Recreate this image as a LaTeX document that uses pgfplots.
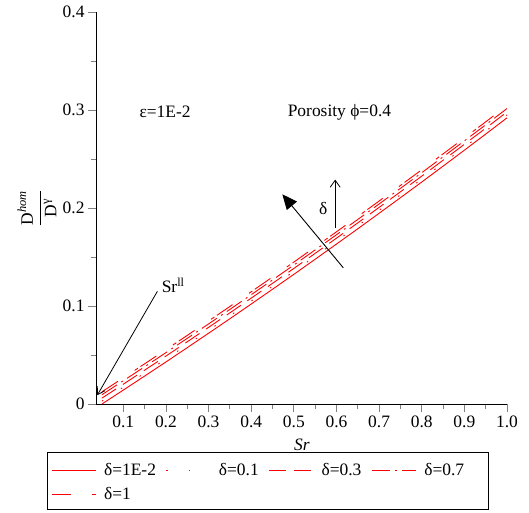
\documentclass[border=0pt]{standalone}
\usepackage{pgfplots}
\pgfplotsset{compat=1.18}
\usepackage{pgfplotstable}
\usetikzlibrary{arrows.meta}
\usepackage{fontspec}
\setmainfont{Liberation Serif}
\definecolor{myred}{RGB}{255,0,0}
\pgfplotstableread{
x      d1      d2      d3      d4      d5
0.05   0.0000  0.0030  0.0060  0.0095  0.0125
0.10   0.0142  0.0172  0.0202  0.0237  0.0267
0.15   0.0285  0.0315  0.0345  0.0380  0.0410
0.20   0.0429  0.0459  0.0489  0.0524  0.0554
0.25   0.0575  0.0605  0.0635  0.0670  0.0700
0.30   0.0722  0.0752  0.0782  0.0817  0.0847
0.35   0.0870  0.0900  0.0930  0.0965  0.0995
0.40   0.1020  0.1050  0.1080  0.1115  0.1145
0.45   0.1171  0.1201  0.1231  0.1266  0.1296
0.50   0.1323  0.1353  0.1383  0.1418  0.1448
0.55   0.1477  0.1507  0.1537  0.1572  0.1602
0.60   0.1632  0.1662  0.1692  0.1727  0.1757
0.65   0.1788  0.1818  0.1848  0.1883  0.1913
0.70   0.1946  0.1976  0.2006  0.2041  0.2071
0.75   0.2105  0.2135  0.2165  0.2200  0.2230
0.80   0.2265  0.2295  0.2325  0.2360  0.2390
0.85   0.2427  0.2457  0.2487  0.2522  0.2552
0.90   0.2590  0.2620  0.2650  0.2685  0.2715
0.95   0.2754  0.2784  0.2814  0.2849  0.2879
1.00   0.2920  0.2950  0.2980  0.3015  0.3045
}\datatable
\newcommand{\fs}{\fontsize{17.5}{19}\selectfont}
\begin{document}
\begin{tikzpicture}
\begin{axis}[
  scale only axis, width=411bp, height=392bp,
  at={(0,0)}, anchor=south west,
  xmin=0.036, xmax=1.0, ymin=0, ymax=0.4,
  axis lines=left, axis line style={-, line width=0.8bp},
  tick style={line width=0.8bp},
  tick align=outside, major tick length=8bp, minor tick length=5bp,
  xtick={0.1,0.2,0.3,0.4,0.5,0.6,0.7,0.8,0.9,1.0},
  xticklabels={0.1,0.2,0.3,0.4,0.5,0.6,0.7,0.8,0.9,1.0},
  minor xtick={0.15,0.25,0.35,0.45,0.55,0.65,0.75,0.85,0.95},
  ytick={0,0.1,0.2,0.3,0.4},
  yticklabels={0,0.1,0.2,0.3,0.4},
  minor ytick={0.05,0.15,0.25,0.35},
  /pgf/number format/assume math mode=true,
  ticklabel style={font=\fs},
  xlabel={\itshape Sr},
  xlabel style={font=\fs, at={(axis description cs:0.501,-0.105)}, anchor=center},
  ylabel={$\displaystyle\frac{\mbox{D}^{\mbox{\fontsize{12.5}{13}\selectfont\itshape hom}}}{\mbox{D}^{\mbox{\fontsize{12.5}{13}\selectfont γ}}}$},
  ylabel style={font=\fs, at={(axis description cs:-0.1435,0.5)}, anchor=center},
  legend columns=4,
  legend style={at={(axis description cs:-0.1193,-0.1224)}, anchor=north west,
    font=\fs, draw=none, fill=none, color=myred, nodes={text=black},
    /tikz/every odd column/.append style={column sep=6bp},
    /tikz/every even column/.append style={column sep=8bp},
    row sep=6bp,
    inner xsep=4bp, inner ysep=9bp},
  legend cell align=left,
  legend image code/.code={\draw[myred,#1] (0bp,0bp)--(44bp,0bp);},
  clip=false,
]
\addplot[color=myred, line width=0.9bp] table[x=x,y=d1] {\datatable};
\addlegendentry{δ=1E-2}
\addplot[color=myred, line width=0.9bp, dash pattern=on 1.5bp off 21bp] table[x=x,y=d2] {\datatable};
\addlegendentry{δ=0.1}
\addplot[color=myred, line width=0.9bp, dash pattern=on 17bp off 8bp] table[x=x,y=d3] {\datatable};
\addlegendentry{δ=0.3}
\addplot[color=myred, line width=0.9bp, dash pattern=on 18bp off 5bp on 2bp off 5bp] table[x=x,y=d4] {\datatable};
\addlegendentry{δ=0.7}
\addplot[color=myred, line width=0.9bp, dash pattern=on 19bp off 20bp on 4bp off 3bp, legend image code/.code={}] table[x=x,y=d5] {\datatable};
\addlegendentry{\hspace*{-51.99bp}\textcolor{myred}{\rule[4.4bp]{19bp}{0.9bp}\hspace*{21bp}\rule[4.4bp]{4bp}{0.9bp}}\hspace*{7.99bp}δ=1}
\draw[black, line width=0.8bp] (axis description cs:-0.1193,-0.1224) rectangle (axis description cs:0.954,-0.268);
\node[font=\fs] at (axis cs:0.198,0.298) {ε=1E-2};
\node[font=\fs] at (axis cs:0.607,0.298) {Porosity ϕ=0.4};
\node[font=\fs, anchor=west] at (axis cs:0.182,0.121) {Sr\textsuperscript{ll}};
\draw[black, line width=0.8bp, -{Straight Barb[length=7bp,width=9bp]}] (axis cs:0.18,0.115) -- (axis cs:0.039,0.009);
\draw[black, line width=0.9bp, -{Triangle[length=15bp,width=13bp]}] (axis cs:0.616,0.139) -- (axis cs:0.473,0.214);
\draw[black, line width=0.8bp, -{Straight Barb[length=7bp,width=10bp]}] (axis cs:0.597,0.18) -- (axis cs:0.597,0.229);
\node[font=\fs] at (axis cs:0.569,0.199) {δ};
\end{axis}
\path[use as bounding box] (-96bp,-109bp) rectangle (433bp,404bp);
\end{tikzpicture}
\end{document}
